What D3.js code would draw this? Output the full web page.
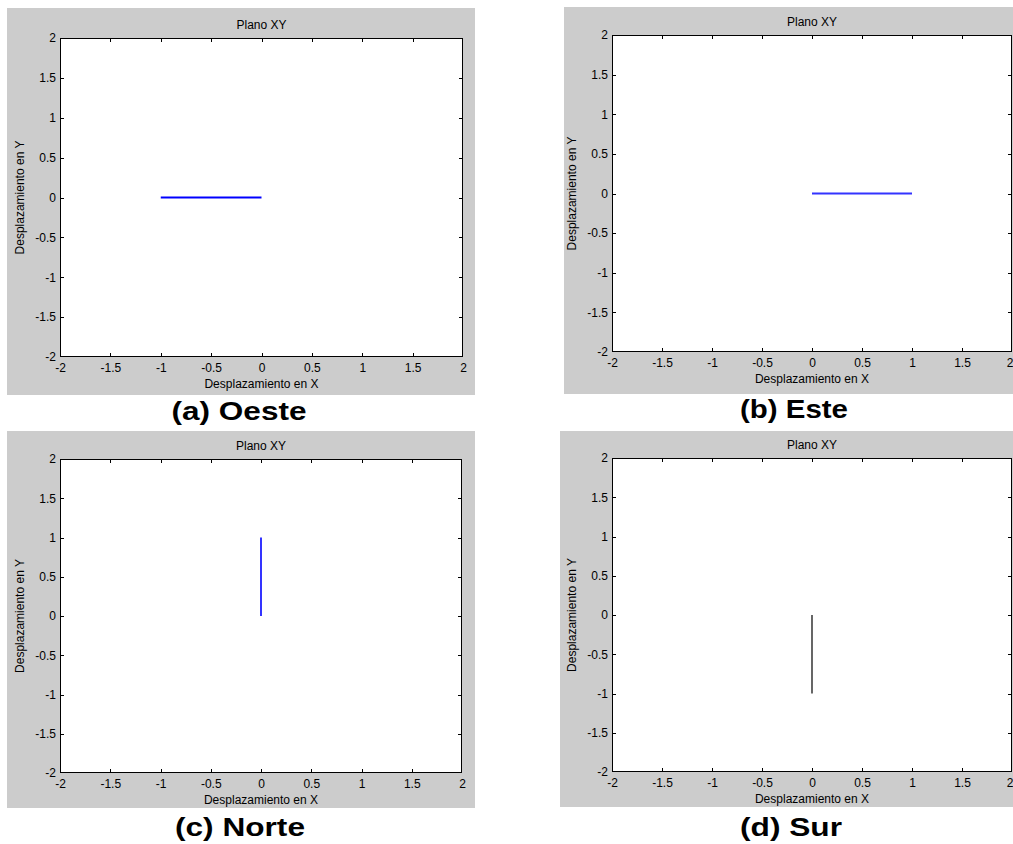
<!DOCTYPE html>
<html>
<head>
<meta charset="utf-8">
<script src="https://cdn.jsdelivr.net/npm/d3@7"></script>
<style>
  body { margin: 0; background: #fff; }
  svg { display: block; }
  text { font-family: Arial, "Liberation Sans", sans-serif; }
</style>
</head>
<body>
<div id="chart"></div>
<script>
const W = 1013, H = 844;

// data
const xTicks = [-2, -1.5, -1, -0.5, 0, 0.5, 1, 1.5, 2];
const yTicks = [-2, -1.5, -1, -0.5, 0, 0.5, 1, 1.5, 2];
const captions = ["(a) Oeste", "(b) Este", "(c) Norte", "(d) Sur"];
const titleText = "Plano XY";
const xLabel = "Desplazamiento en X";
const yLabel = "Desplazamiento en Y";
const oesteX = [-1, 0], oesteY = [0, 0];
const esteX = [0, 1], esteY = [0, 0];
const norteX = [0, 0], norteY = [0, 1];
const surX = [0, 0], surY = [0, -1];

const panels = [
  {gray: [7, 8, 475, 395], box: [60, 38, 463, 357], cap: [239, 420, 135], xs: oesteX, ys: oesteY, color: "#0000ff", lw: 2},
  {gray: [564, 7, 1013, 394], box: [612, 35, 1012, 352], cap: [794, 418, 108], xs: esteX, ys: esteY, color: "#3333ff", lw: 2},
  {gray: [7, 431, 475, 808], box: [60, 459, 462, 773], cap: [240, 836, 130], xs: norteX, ys: norteY, color: "#0000ff", lw: 1.6},
  {gray: [560, 431, 1013, 807], box: [612, 458, 1012, 772], cap: [791, 836, 102], xs: surX, ys: surY, color: "#000000", lw: 1.2}
];

const svg = d3.select("#chart").append("svg")
    .attr("width", W).attr("height", H);

panels.forEach((p, i) => {
  const [gx0, gy0, gx1, gy1] = p.gray;
  const [bx0, by0, bx1, by1] = p.box;
  const g = svg.append("g");

  g.append("rect")
      .attr("x", gx0).attr("y", gy0)
      .attr("width", gx1 - gx0).attr("height", gy1 - gy0)
      .attr("fill", "#cccccc");

  g.append("rect")
      .attr("x", bx0).attr("y", by0)
      .attr("width", bx1 - bx0).attr("height", by1 - by0)
      .attr("fill", "#ffffff");

  const x = d3.scaleLinear().domain([-2, 2]).range([bx0, bx1]);
  const y = d3.scaleLinear().domain([-2, 2]).range([by1, by0]);

  // ticks inside on all four sides, matlab style
  const fmt = d => String(d);
  const xb = g.append("g").attr("transform", `translate(0,${by1})`)
      .call(d3.axisBottom(x).tickValues(xTicks).tickSizeInner(-4).tickSizeOuter(0).tickPadding(6).tickFormat(fmt))
      .call(a => a.select(".domain").remove());
  g.append("g").attr("transform", `translate(0,${by0})`)
      .call(d3.axisTop(x).tickValues(xTicks).tickSizeInner(-4).tickSizeOuter(0).tickFormat(""))
      .call(a => a.select(".domain").remove());
  g.append("g").attr("transform", `translate(${bx0},0)`)
      .call(d3.axisLeft(y).tickValues(yTicks).tickSizeInner(-4).tickSizeOuter(0).tickPadding(4).tickFormat(fmt))
      .call(a => a.select(".domain").remove());
  g.append("g").attr("transform", `translate(${bx1},0)`)
      .call(d3.axisRight(y).tickValues(yTicks).tickSizeInner(-4).tickSizeOuter(0).tickFormat(""))
      .call(a => a.select(".domain").remove());

  g.selectAll(".tick line").attr("stroke", "#000").attr("shape-rendering", "crispEdges");
  // corner ticks fall on the box edges
  g.selectAll(".tick").filter(d => Math.abs(d) === 2).select("line").remove();
  g.selectAll(".tick text")
      .attr("font-size", 12)
      .attr("font-family", "Arial, 'Liberation Sans', sans-serif")
      .attr("fill", "#000");

  // last x label sits at the page edge on the right panels
  if (bx1 > W - 5) {
    xb.selectAll(".tick text").filter(d => d === 2)
        .attr("text-anchor", "end").attr("x", W - bx1);
  }

  g.append("rect")
      .attr("x", bx0 + 0.5).attr("y", by0 + 0.5)
      .attr("width", bx1 - bx0 - 1).attr("height", by1 - by0 - 1)
      .attr("fill", "none").attr("stroke", "#000").attr("stroke-width", 1)
      .attr("shape-rendering", "crispEdges");

  const line = d3.line().x(d => x(d[0])).y(d => y(d[1]));
  g.append("path")
      .datum(p.xs.map((v, k) => [v, p.ys[k]]))
      .attr("d", line)
      .attr("fill", "none")
      .attr("stroke", p.color)
      .attr("stroke-width", p.lw);

  const cx = (bx0 + bx1) / 2;
  g.append("text")
      .attr("x", cx).attr("y", by0 - 9)
      .attr("text-anchor", "middle")
      .attr("font-size", 12)
      .text(titleText);

  g.append("text")
      .attr("x", cx).attr("y", by1 + 31)
      .attr("text-anchor", "middle")
      .attr("font-size", 12)
      .text(xLabel);

  g.append("text")
      .attr("transform", `translate(${bx0 - 36},${(by0 + by1) / 2}) rotate(-90)`)
      .attr("text-anchor", "middle")
      .attr("font-size", 12)
      .text(yLabel);

  g.append("text")
      .attr("x", p.cap[0]).attr("y", p.cap[1])
      .attr("text-anchor", "middle")
      .attr("font-size", 26)
      .attr("font-weight", "bold")
      .attr("textLength", p.cap[2])
      .attr("lengthAdjust", "spacingAndGlyphs")
      .text(captions[i]);
});
</script>
</body>
</html>
